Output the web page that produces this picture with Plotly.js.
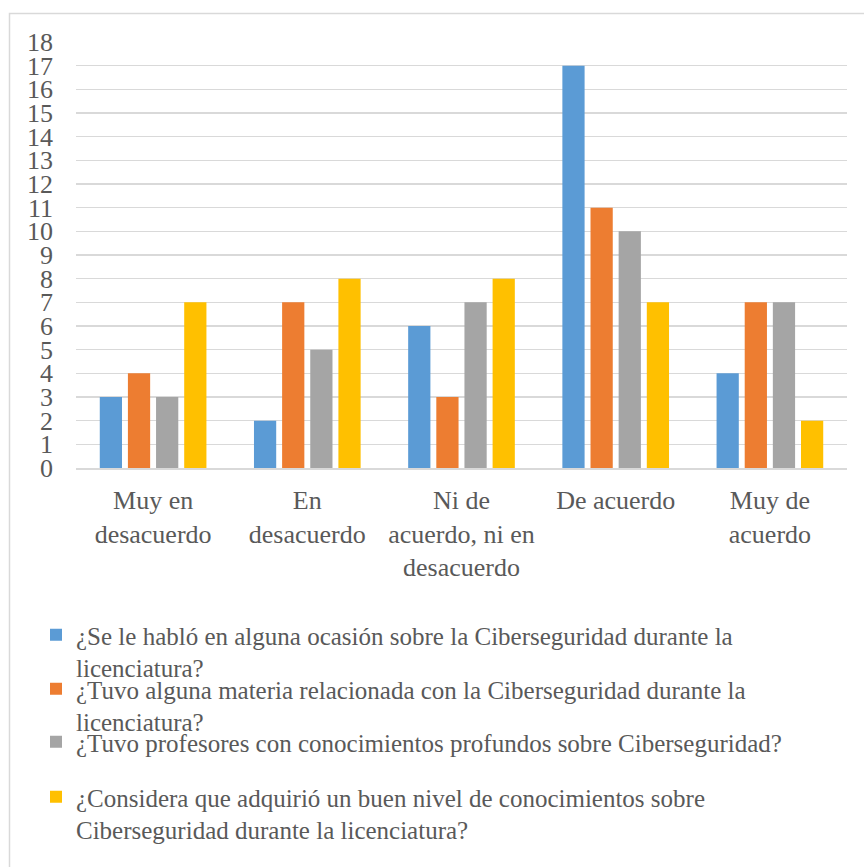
<!DOCTYPE html>
<html>
<head>
<meta charset="utf-8">
<script src="https://cdn.plot.ly/plotly-3.0.1.min.js"></script>
<style>
html,body{margin:0;padding:0;background:#fff;}
#chart{width:864px;height:867px;}
</style>
</head>
<body>
<div id="chart"></div>
<script>
const categories = [
  "Muy en<br>desacuerdo",
  "En<br>desacuerdo",
  "Ni de<br>acuerdo, ni en<br>desacuerdo",
  "De acuerdo",
  "Muy de<br>acuerdo"
];
const seriesNames = [
  "¿Se le habló en alguna ocasión sobre la Ciberseguridad durante la<br>licenciatura?",
  "¿Tuvo alguna materia relacionada con la Ciberseguridad durante la<br>licenciatura?",
  "¿Tuvo profesores con conocimientos profundos sobre Ciberseguridad?",
  "¿Considera que adquirió un buen nivel de conocimientos sobre<br>Ciberseguridad durante la licenciatura?"
];
const habloValues     = [3, 2, 6, 17, 4];
const materiaValues   = [4, 7, 3, 11, 7];
const profesValues    = [3, 5, 7, 10, 7];
const consideraValues = [7, 8, 8, 7, 2];
const seriesValues = [habloValues, materiaValues, profesValues, consideraValues];
const colors = ["#5B9BD5", "#ED7D31", "#A5A5A5", "#FFC000"];
const yTicks = [0,1,2,3,4,5,6,7,8,9,10,11,12,13,14,15,16,17,18];

const W = 864, H = 867;
const legendTops = [612, 666, 719, 774];
const legendKeys = ["legend", "legend2", "legend3", "legend4"];

const traces = seriesValues.map((vals, i) => ({
  type: "bar",
  x: categories,
  y: vals,
  name: seriesNames[i],
  marker: {color: colors[i], line: {width: 0}},
  legend: i === 0 ? "legend" : "legend" + (i + 1),
  hoverinfo: "skip"
}));

const fontFam = "Liberation Serif, Times New Roman, serif";
const layout = {
  width: W, height: H,
  paper_bgcolor: "#ffffff",
  plot_bgcolor: "#ffffff",
  margin: {l: 76, r: 17, t: 42, b: 399, autoexpand: false},
  font: {family: fontFam, color: "#595959", size: 26},
  barmode: "group",
  bargap: 0.27,
  bargroupgap: 0.21,
  xaxis: {
    type: "category",
    showgrid: false,
    showline: true,
    linecolor: "#d9d9d9",
    linewidth: 1.5,
    ticks: "",
    tickangle: 0,
    ticklabelstandoff: 8,
    tickfont: {family: fontFam, size: 26, color: "#595959"},
    automargin: false,
    fixedrange: true
  },
  yaxis: {
    range: [0, 18],
    tickvals: yTicks,
    ticktext: yTicks.map(String),
    showgrid: true,
    gridcolor: "#d9d9d9",
    gridwidth: 1.5,
    zeroline: false,
    showline: false,
    ticks: "",
    ticklabelstandoff: 22,
    tickfont: {family: fontFam, size: 26, color: "#595959"},
    automargin: false,
    fixedrange: true
  },
  shapes: [{
    type: "rect",
    xref: "paper", yref: "paper",
    x0: (9.5 - 76) / 771, x1: 1.2,
    y0: -1.2, y1: (468 - 13.5) / 426,
    line: {color: "#d9d9d9", width: 1.5},
    fillcolor: "rgba(0,0,0,0)",
    layer: "below"
  }],
  showlegend: true
};
legendKeys.forEach((k, i) => {
  layout[k] = {
    xref: "container", yref: "container",
    x: 36 / W, y: 1 - legendTops[i] / H,
    xanchor: "left", yanchor: "top",
    orientation: "v",
    valign: "top",
    bgcolor: "rgba(0,0,0,0)",
    borderwidth: 0,
    font: {family: fontFam, size: 25, color: "#595959"},
    itemclick: false, itemdoubleclick: false
  };
});

Plotly.newPlot("chart", traces, layout, {displayModeBar: false, staticPlot: true});
</script>
</body>
</html>
